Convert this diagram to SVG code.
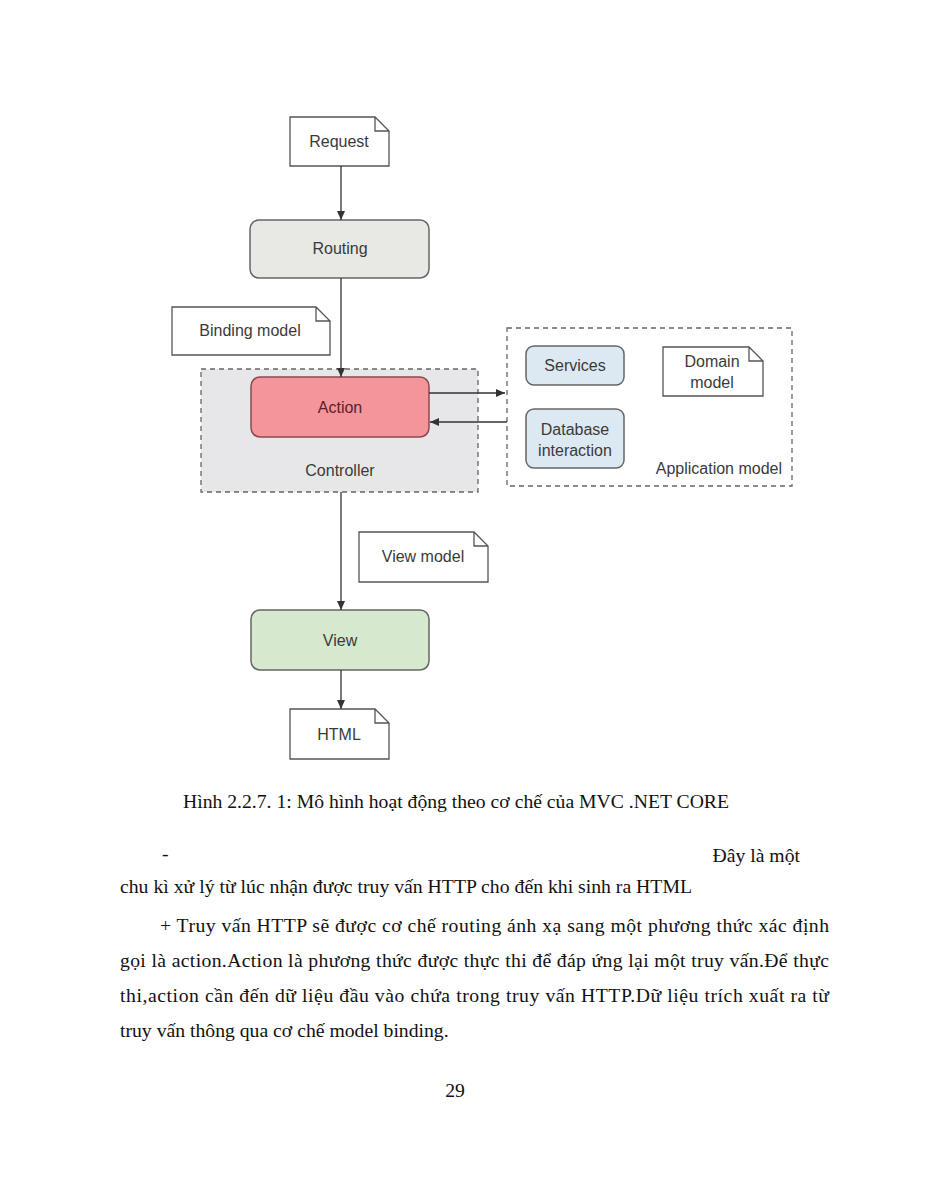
<svg xmlns="http://www.w3.org/2000/svg" width="927" height="1200" viewBox="0 0 927 1200">
<defs>
<marker id="ah" markerWidth="10" markerHeight="12" refX="9" refY="5" orient="auto" markerUnits="userSpaceOnUse">
<path d="M0,1 L9,5 L0,9 Z" fill="#333"/>
</marker>
</defs>
<style>
.doc{fill:#fff;stroke:#555;stroke-width:1.3}
.lbl{font-family:"Liberation Sans",Arial,sans-serif;font-size:16px;fill:#3a3a3a;text-anchor:middle}
.box{stroke:#666;stroke-width:1.5}
.dash{stroke:#666;stroke-width:1.3;stroke-dasharray:5,4}
.conn{stroke:#333;stroke-width:1.3;fill:none}
.body{font-family:"Liberation Serif","Times New Roman",serif;font-size:19.7px;fill:#111}
</style>
<rect width="927" height="1200" fill="#fff"/>

<g id="controller">
<rect x="201" y="369" width="277" height="123" fill="#e7e7ea" class="dash"/>
<text x="340" y="476" class="lbl">Controller</text>
</g>
<g id="application-model">
<rect x="507" y="328" width="285" height="158" fill="#fff" class="dash"/>
<text x="782" y="474" class="lbl" style="text-anchor:end">Application model</text>
</g>

<g id="request">
<path d="M290,117 H375 L389,131 V166 H290 Z M375,117 V131 H389" class="doc"/>
<text x="339" y="147" class="lbl">Request</text>
</g>
<g id="routing">
<rect x="250" y="220" width="179" height="58" rx="9" fill="#e8e8e5" class="box"/>
<text x="340" y="254" class="lbl">Routing</text>
</g>
<g id="binding-model">
<path d="M172,307 H316 L330,321 V355 H172 Z M316,307 V321 H330" class="doc"/>
<text x="250" y="336" class="lbl">Binding model</text>
</g>
<g id="action">
<rect x="251" y="377" width="178" height="60" rx="9" fill="#f3959b" stroke="#8a4a4e" stroke-width="1.5"/>
<text x="340" y="413" class="lbl" style="fill:#5a2226">Action</text>
</g>
<g id="services">
<rect x="526" y="346" width="98" height="39" rx="8" fill="#dce9f3" class="box"/>
<text x="575" y="371" class="lbl">Services</text>
</g>
<g id="database-interaction">
<rect x="526" y="409" width="98" height="59" rx="8" fill="#dce9f3" class="box"/>
<text x="575" y="435" class="lbl">Database</text>
<text x="575" y="456" class="lbl">interaction</text>
</g>
<g id="domain-model">
<path d="M663,347 H749 L763,361 V396 H663 Z M749,347 V361 H763" class="doc"/>
<text x="712" y="367" class="lbl">Domain</text>
<text x="712" y="388" class="lbl">model</text>
</g>
<g id="view-model">
<path d="M359,532 H474 L488,546 V582 H359 Z M474,532 V546 H488" class="doc"/>
<text x="423" y="562" class="lbl">View model</text>
</g>
<g id="view">
<rect x="251" y="610" width="178" height="60" rx="9" fill="#d6e8cd" class="box"/>
<text x="340" y="646" class="lbl">View</text>
</g>
<g id="html">
<path d="M290,709 H375 L389,723 V759 H290 Z M375,709 V723 H389" class="doc"/>
<text x="339" y="740" class="lbl">HTML</text>
</g>

<g id="connectors">
<line x1="341" y1="166" x2="341" y2="220" class="conn" marker-end="url(#ah)"/>
<line x1="341" y1="278" x2="341" y2="377" class="conn" marker-end="url(#ah)"/>
<line x1="429" y1="393" x2="505" y2="393" class="conn" marker-end="url(#ah)"/>
<line x1="507" y1="422" x2="430" y2="422" class="conn" marker-end="url(#ah)"/>
<line x1="341" y1="492" x2="341" y2="610" class="conn" marker-end="url(#ah)"/>
<line x1="341" y1="670" x2="341" y2="709" class="conn" marker-end="url(#ah)"/>
</g>

<g id="text">
<text x="183" y="808" class="body" textLength="546" lengthAdjust="spacingAndGlyphs">Hình 2.2.7. 1: Mô hình hoạt động theo cơ chế của MVC .NET CORE</text>
<text x="162" y="860" class="body">-</text>
<text x="800" y="862" class="body" text-anchor="end">Đây là một</text>
<text x="120" y="893" class="body" textLength="572" lengthAdjust="spacingAndGlyphs">chu kì xử lý từ lúc nhận được truy vấn HTTP cho đến khi sinh ra HTML</text>
<text x="160" y="932" class="body" textLength="669" lengthAdjust="spacing">+ Truy vấn HTTP sẽ được cơ chế routing ánh xạ sang một phương thức xác định</text>
<text x="120" y="967" class="body" textLength="709" lengthAdjust="spacing">gọi là action.Action là phương thức được thực thi để đáp ứng lại một truy vấn.Để thực</text>
<text x="120" y="1002" class="body" textLength="709" lengthAdjust="spacing">thi,action cần đến dữ liệu đầu vào chứa trong truy vấn HTTP.Dữ liệu trích xuất ra từ</text>
<text x="120" y="1037" class="body">truy vấn thông qua cơ chế model binding.</text>
<text x="455" y="1097" class="body" text-anchor="middle">29</text>
</g>
</svg>
